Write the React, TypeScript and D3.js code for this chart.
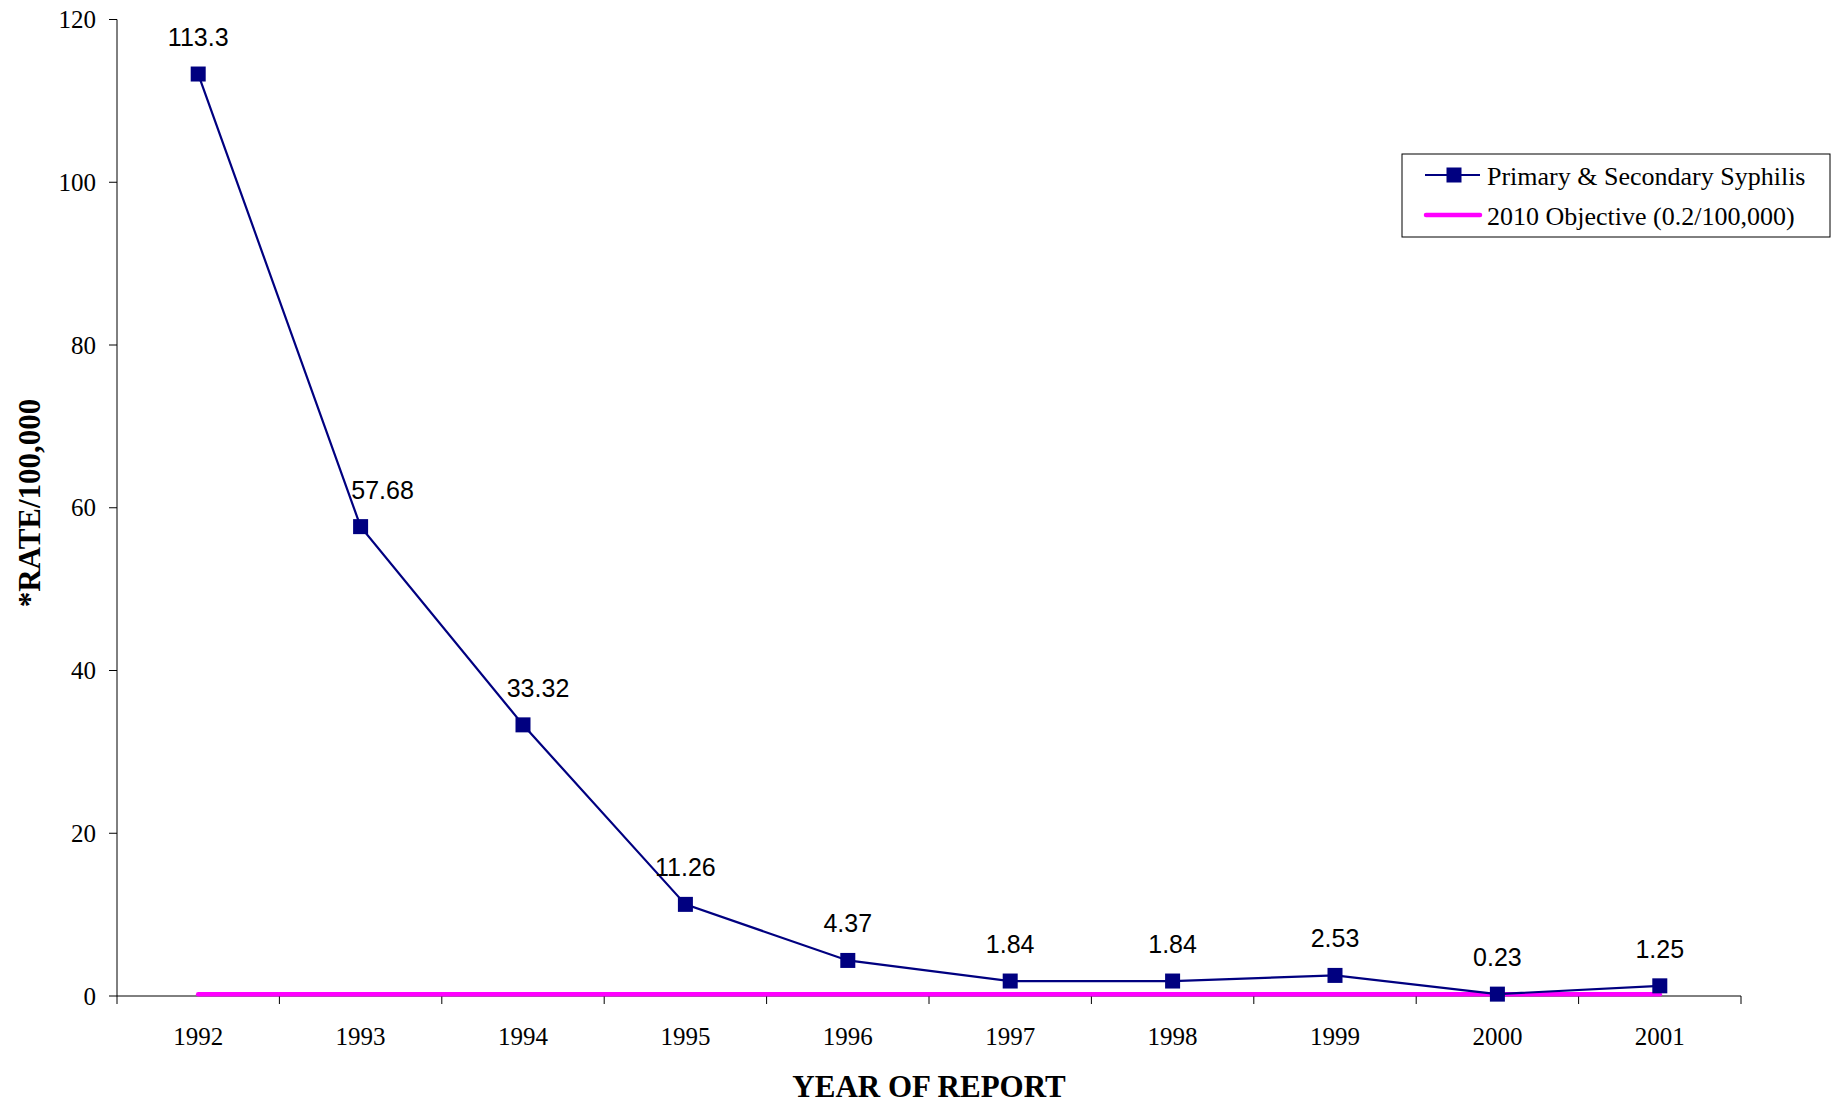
import * as d3 from 'd3';
import { useMemo } from 'react';

const years = ['1992', '1993', '1994', '1995', '1996', '1997', '1998', '1999', '2000', '2001'];
const syphilisRates = [113.3, 57.68, 33.32, 11.26, 4.37, 1.84, 1.84, 2.53, 0.23, 1.25];
const rateLabels = ['113.3', '57.68', '33.32', '11.26', '4.37', '1.84', '1.84', '2.53', '0.23', '1.25'];
const objectiveRate = 0.2;
const yTicks = [0, 20, 40, 60, 80, 100, 120];

const WIDTH = 1835;
const HEIGHT = 1104;
const MARGIN = { top: 19.5, right: 94, bottom: 108, left: 117 };

// a couple of labels were nudged sideways in the original to clear the line
const LABEL_DX: Record<number, number> = { 1: 22, 2: 15 };

const NAVY = '#000080';
const MAGENTA = '#ff00ff';
const SERIF = '"Liberation Serif", "Times New Roman", serif';
const SANS = '"Liberation Sans", Arial, sans-serif';

export default function App() {
  const boundsWidth = WIDTH - MARGIN.left - MARGIN.right;
  const boundsHeight = HEIGHT - MARGIN.top - MARGIN.bottom;

  const xScale = useMemo(
    () => d3.scaleBand().domain(years).range([0, boundsWidth]),
    [boundsWidth]
  );
  const yScale = useMemo(
    () => d3.scaleLinear().domain([0, 120]).range([boundsHeight, 0]),
    [boundsHeight]
  );

  const cx = (y: string) => (xScale(y) ?? 0) + xScale.bandwidth() / 2;

  const linePath = d3
    .line<number>()
    .x((_, i) => cx(years[i]))
    .y((d) => yScale(d))(syphilisRates);

  const objectivePath = d3
    .line<string>()
    .x((d) => cx(d))
    .y(() => yScale(objectiveRate))(years);

  const boundaries = years.map((y) => xScale(y) ?? 0).concat([boundsWidth]);

  return (
    <svg
      width={WIDTH}
      height={HEIGHT}
      style={{ position: 'absolute', left: 0, top: 0, background: '#fff' }}
    >
      <g transform={`translate(${MARGIN.left},${MARGIN.top})`}>
        {/* y axis */}
        <line x1={0} x2={0} y1={0} y2={boundsHeight} stroke="#000" strokeWidth={1} />
        {yTicks.map((t) => (
          <g key={t} transform={`translate(0,${yScale(t)})`}>
            <line x1={-8} x2={0} stroke="#000" strokeWidth={1} />
            <text
              x={-21}
              dy="0.34em"
              textAnchor="end"
              fontFamily={SERIF}
              fontSize={25}
              fill="#000"
            >
              {t}
            </text>
          </g>
        ))}

        {/* x axis */}
        <line x1={0} x2={boundsWidth} y1={boundsHeight} y2={boundsHeight} stroke="#000" strokeWidth={1} />
        {boundaries.map((b, i) => (
          <line key={i} x1={b} x2={b} y1={boundsHeight} y2={boundsHeight + 8} stroke="#000" strokeWidth={1} />
        ))}
        {years.map((y) => (
          <text
            key={y}
            x={cx(y)}
            y={boundsHeight + 49}
            textAnchor="middle"
            fontFamily={SERIF}
            fontSize={25}
            fill="#000"
          >
            {y}
          </text>
        ))}

        {/* objective line */}
        <path d={objectivePath ?? ''} fill="none" stroke={MAGENTA} strokeWidth={4.5} strokeLinecap="round" />

        {/* syphilis series */}
        <path d={linePath ?? ''} fill="none" stroke={NAVY} strokeWidth={2.2} />
        {syphilisRates.map((v, i) => (
          <rect
            key={i}
            x={cx(years[i]) - 7.5}
            y={yScale(v) - 7.5}
            width={15}
            height={15}
            fill={NAVY}
          />
        ))}
        {syphilisRates.map((v, i) => (
          <text
            key={i}
            x={cx(years[i]) + (LABEL_DX[i] ?? 0)}
            y={yScale(v) - 28}
            textAnchor="middle"
            fontFamily={SANS}
            fontSize={25}
            fill="#000"
          >
            {rateLabels[i]}
          </text>
        ))}
      </g>

      {/* axis titles */}
      <text
        transform="translate(40,503) rotate(-90)"
        textAnchor="middle"
        fontFamily={SERIF}
        fontWeight="bold"
        fontSize={31}
        fill="#000"
      >
        *RATE/100,000
      </text>
      <text
        x={MARGIN.left + boundsWidth / 2}
        y={1097}
        textAnchor="middle"
        fontFamily={SERIF}
        fontWeight="bold"
        fontSize={31}
        fill="#000"
      >
        YEAR OF REPORT
      </text>

      {/* legend */}
      <g>
        <rect x={1402} y={154} width={428} height={83} fill="#fff" stroke="#000" strokeWidth={1} />
        <line x1={1425} x2={1480} y1={175} y2={175} stroke={NAVY} strokeWidth={2.2} />
        <rect x={1446.5} y={167.5} width={15} height={15} fill={NAVY} />
        <text x={1487} y={185} fontFamily={SERIF} fontSize={26} fill="#000">
          Primary &amp; Secondary Syphilis
        </text>
        <line x1={1426} x2={1480} y1={215} y2={215} stroke={MAGENTA} strokeWidth={4.5} strokeLinecap="round" />
        <text x={1487} y={225} fontFamily={SERIF} fontSize={26} fill="#000">
          2010 Objective (0.2/100,000)
        </text>
      </g>
    </svg>
  );
}
